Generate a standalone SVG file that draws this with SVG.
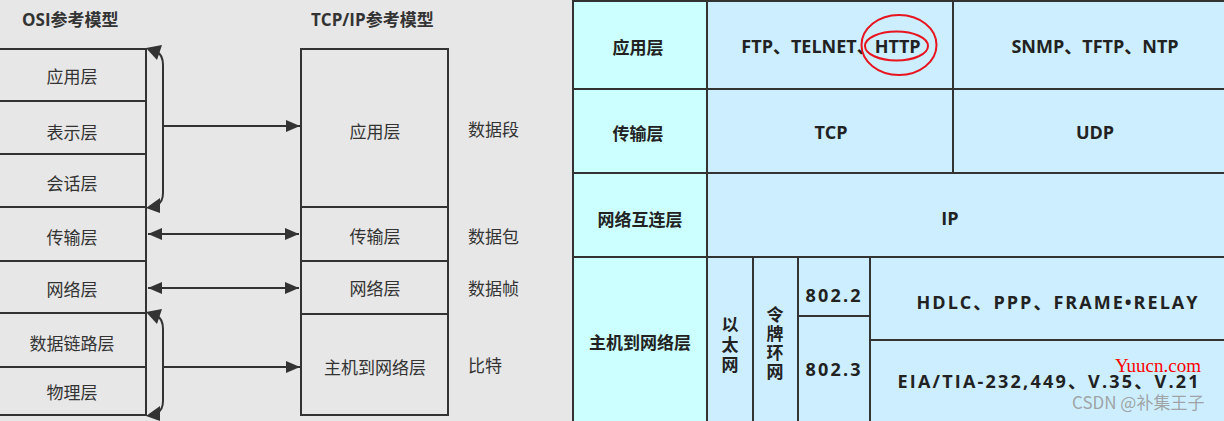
<svg xmlns="http://www.w3.org/2000/svg" width="1224" height="421" viewBox="0 0 1224 421">
<defs>
<marker id="ah" viewBox="0 0 14 12" refX="14" refY="6" markerWidth="14" markerHeight="12" markerUnits="userSpaceOnUse" orient="auto-start-reverse">
<path d="M0,0 L14,6 L0,12 Z" fill="#333"/>
</marker>
</defs>
<style>
.bx{fill:none;stroke:#333;stroke-width:2}
.ln{stroke:#333;stroke-width:2;fill:none}
.hdT{fill:#333}
.lbl{font-family:"Noto Sans CJK SC","Noto Sans",sans-serif;font-size:17px;fill:#333;dominant-baseline:central}
.hd{font-family:"Open Sans","Noto Sans CJK SC",sans-serif;font-size:17px;font-weight:bold;fill:#333;dominant-baseline:central}
.tb{font-family:"Open Sans","Noto Sans CJK SC",sans-serif;font-size:18px;font-weight:bold;fill:#222;dominant-baseline:central;text-anchor:middle}
.cn{font-family:"Noto Sans CJK SC",sans-serif;font-size:17px;font-weight:bold;fill:#222;text-anchor:middle;dominant-baseline:central}
.c1{fill:#ccffff}
.c2{fill:#cceeff}
.g{stroke:#333;stroke-width:2}
</style>
<rect x="0" y="0" width="1224" height="421" fill="#e7e7e7"/>
<g id="headings">
<text class="hd" x="22" y="19">OSI参考模型</text>
<text class="hd" x="311" y="19">TCP/IP参考模型</text>
</g>
<g id="osi">
<path class="bx" d="M0,49 H146 V415 H0"/>
<line class="ln" x1="0" y1="101" x2="146" y2="101"/>
<line class="ln" x1="0" y1="154" x2="146" y2="154"/>
<line class="ln" x1="0" y1="207" x2="146" y2="207"/>
<line class="ln" x1="0" y1="261" x2="146" y2="261"/>
<line class="ln" x1="0" y1="313" x2="146" y2="313"/>
<line class="ln" x1="0" y1="367" x2="146" y2="367"/>
<g text-anchor="middle">
<text class="lbl" x="72" y="75">应用层</text>
<text class="lbl" x="72" y="131">表示层</text>
<text class="lbl" x="72" y="182">会话层</text>
<text class="lbl" x="72" y="236">传输层</text>
<text class="lbl" x="72" y="288">网络层</text>
<text class="lbl" x="72" y="342">数据链路层</text>
<text class="lbl" x="72" y="391">物理层</text>
</g>
</g>
<g id="tcpip">
<rect class="bx" x="301" y="49" width="147" height="366"/>
<line class="ln" x1="301" y1="207" x2="448" y2="207"/>
<line class="ln" x1="301" y1="261" x2="448" y2="261"/>
<line class="ln" x1="301" y1="314" x2="448" y2="314"/>
<g text-anchor="middle">
<text class="lbl" x="375" y="130">应用层</text>
<text class="lbl" x="375" y="235">传输层</text>
<text class="lbl" x="375" y="287">网络层</text>
<text class="lbl" x="375" y="366">主机到网络层</text>
</g>
</g>
<g id="units">
<text class="lbl" x="468" y="128">数据段</text>
<text class="lbl" x="468" y="235">数据包</text>
<text class="lbl" x="468" y="287">数据帧</text>
<text class="lbl" x="468" y="364">比特</text>
</g>
<g id="connectors">
<path class="ln" d="M157,52 Q163,55 163,65 L163,193 Q163,202 157,205"/>
<polygon class="hdT" points="146,48 162,45 157,60"/>
<polygon class="hdT" points="146,208 160,198 160,213"/>
<line class="ln" x1="163" y1="126" x2="300" y2="126" marker-end="url(#ah)"/>
<line class="ln" x1="148" y1="234" x2="299" y2="234" marker-start="url(#ah)" marker-end="url(#ah)"/>
<line class="ln" x1="148" y1="288" x2="299" y2="288" marker-start="url(#ah)" marker-end="url(#ah)"/>
<path class="ln" d="M157,316 Q163,319 163,329 L163,401 Q163,410 157,413"/>
<polygon class="hdT" points="146,312 162,309 157,324"/>
<polygon class="hdT" points="146,416 160,406 160,421"/>
<line class="ln" x1="163" y1="367" x2="300" y2="367" marker-end="url(#ah)"/>
</g>
<g id="table">
<rect class="c1" x="573" y="1" width="134" height="420"/>
<rect class="c2" x="707" y="1" width="517" height="420"/>
<line class="g" x1="572" y1="1" x2="1224" y2="1" stroke-width="3"/>
<line class="g" x1="573" y1="0" x2="573" y2="421" stroke-width="3"/>
<line class="g" x1="707" y1="0" x2="707" y2="421"/>
<line class="g" x1="573" y1="89" x2="1224" y2="89"/>
<line class="g" x1="573" y1="173" x2="1224" y2="173"/>
<line class="g" x1="573" y1="257" x2="1224" y2="257"/>
<line class="g" x1="953" y1="0" x2="953" y2="173"/>
<line class="g" x1="753" y1="257" x2="753" y2="421"/>
<line class="g" x1="798" y1="257" x2="798" y2="421"/>
<line class="g" x1="870" y1="257" x2="870" y2="421"/>
<line class="g" x1="798" y1="316" x2="870" y2="316"/>
<line class="g" x1="870" y1="340" x2="1224" y2="340"/>
</g>
<g id="table-text">
<text class="cn" x="638" y="46">应用层</text>
<text class="cn" x="638" y="132">传输层</text>
<text class="cn" x="640" y="218">网络互连层</text>
<text class="cn" x="640" y="341">主机到网络层</text>
<text class="tb" x="831" y="46">FTP、TELNET、HTTP</text>
<text class="tb" x="1095" y="46">SNMP、TFTP、NTP</text>
<text class="tb" x="831" y="132">TCP</text>
<text class="tb" x="1095" y="132">UDP</text>
<text class="tb" x="950" y="218">IP</text>
<text class="cn" x="730" y="323">以</text>
<text class="cn" x="730" y="343">太</text>
<text class="cn" x="730" y="363">网</text>
<text class="cn" x="775" y="313">令</text>
<text class="cn" x="775" y="332">牌</text>
<text class="cn" x="775" y="351">环</text>
<text class="cn" x="775" y="370">网</text>
<text class="tb" x="833" y="295" textLength="55" lengthAdjust="spacing">802.2</text>
<text class="tb" x="833" y="369" textLength="55" lengthAdjust="spacing">802.3</text>
<text class="tb" x="1057" y="302" textLength="281" lengthAdjust="spacing">HDLC、PPP、FRAME•RELAY</text>
<text class="tb" x="1048" y="381" textLength="301" lengthAdjust="spacing">EIA/TIA-232,449、V.35、V.21</text>
</g>
<g id="highlight">
<ellipse cx="899" cy="45" rx="37.5" ry="30" fill="none" stroke="#e8141e" stroke-width="2"/>
<ellipse cx="896.5" cy="46" rx="31.5" ry="14.5" fill="none" stroke="#e8141e" stroke-width="2"/>
</g>
<g id="watermark">
<text x="1115" y="372" font-family="Liberation Serif,serif" font-size="19" fill="#ff0000">Yuucn.com</text>
<text x="1072" y="409" font-family="Noto Sans CJK SC,sans-serif" font-size="17" fill="#9a9a9a" fill-opacity="0.9">CSDN @补集王子</text>
</g>
</svg>
